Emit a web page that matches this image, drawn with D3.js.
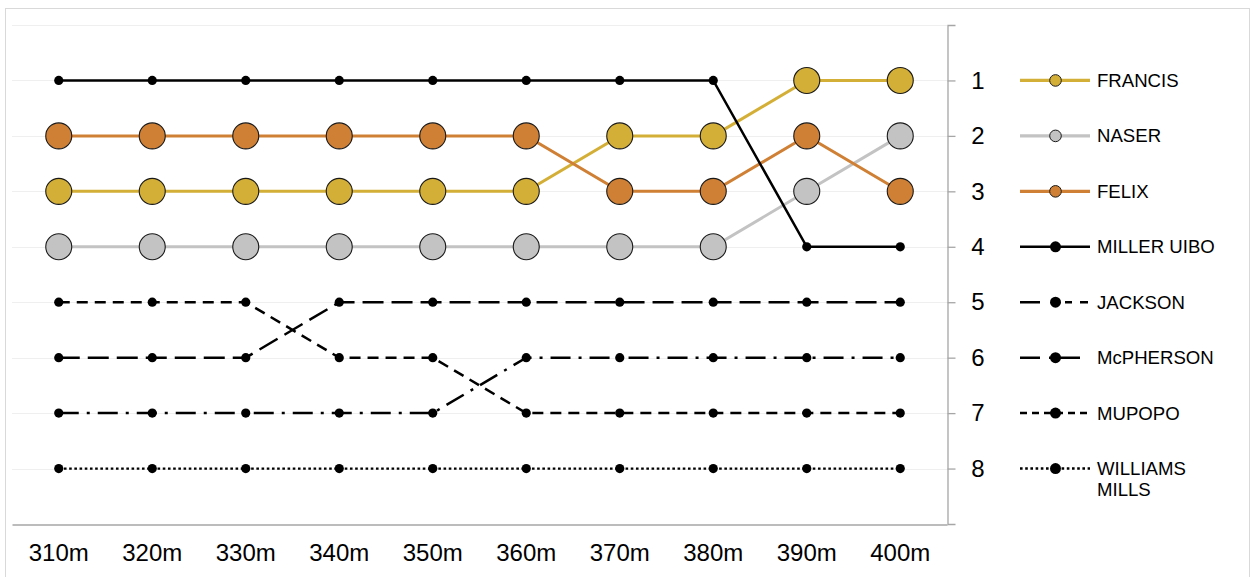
<!DOCTYPE html>
<html><head><meta charset="utf-8">
<script src="https://cdn.jsdelivr.net/npm/d3@7"></script>
<style>
body{margin:0;background:#fff;}
svg{display:block;font-family:"Liberation Sans",Arial,sans-serif;}
</style></head>
<body><svg id="chart" width="1253" height="577"></svg>
<script>
const categories = ["310m","320m","330m","340m","350m","360m","370m","380m","390m","400m"];
const rankTicks = [1,2,3,4,5,6,7,8];
const names = ["FRANCIS","NASER","FELIX","MILLER UIBO","JACKSON","McPHERSON","MUPOPO","WILLIAMS MILLS"];
const francis  = [3,3,3,3,3,3,2,2,1,1];
const naser    = [4,4,4,4,4,4,4,4,3,2];
const felix    = [2,2,2,2,2,2,3,3,2,3];
const millerUibo = [1,1,1,1,1,1,1,1,4,4];
const jackson  = [7,7,7,7,7,6,6,6,6,6];
const mcpherson = [6,6,6,5,5,5,5,5,5,5];
const mupopo   = [5,5,5,6,6,7,7,7,7,7];
const williamsMills = [8,8,8,8,8,8,8,8,8,8];
const seriesValues = [francis,naser,felix,millerUibo,jackson,mcpherson,mupopo,williamsMills];

// styles
const styles = [
  {color:"#D4AF37", w:3, dash:null, big:true, legDash:null},
  {color:"#C3C3C3", w:3, dash:null, big:true, legDash:null},
  {color:"#CF8035", w:3, dash:null, big:true, legDash:null},
  {color:"#000", w:2.5, dash:null, big:false, legDash:null},
  {color:"#000", w:2.5, dash:"20,8,3,8", big:false, legDash:"20,25,7,8,8,40"},
  {color:"#000", w:2.5, dash:"21,8", big:false, legDash:"20,9,31,40"},
  {color:"#000", w:2.5, dash:"11,7", big:false, legDash:"7,5"},
  {color:"#000", w:2.2, dash:"2.6,2.6", big:false, legDash:"2.6,2.6"}
];

const svg = d3.select("#chart");
// outer frame
svg.append("rect").attr("x",5.5).attr("y",8.5).attr("width",1244).attr("height",600)
  .attr("fill","#fff").attr("stroke","#D9D9D9").attr("stroke-width",1);

const x = d3.scaleBand().domain(categories).range([12,947]);
const y = d3.scaleLinear().domain([0,9]).range([25,524]);

// gridlines
svg.append("g").selectAll("line").data(d3.range(0,9)).join("line")
  .attr("x1",12).attr("x2",947)
  .attr("y1",d=>Math.round(y(d))+0.5).attr("y2",d=>Math.round(y(d))+0.5)
  .attr("stroke","#EFEFEF").attr("stroke-width",1.2);

// x axis
const xAxis = svg.append("g").attr("transform",`translate(0,${Math.round(y(9))+0.5})`)
  .call(d3.axisBottom(x).tickSize(0).tickPadding(19));
xAxis.select(".domain").attr("stroke","#A6A6A6").attr("stroke-width",1.3);
xAxis.selectAll("text").attr("font-size",24).attr("fill","#000").attr("font-family","Liberation Sans, Arial, sans-serif");

// y axis (right)
const yAxis = svg.append("g").attr("transform","translate(947.5,0)")
  .call(d3.axisRight(y).tickValues(rankTicks).tickSize(8).tickSizeOuter(8).tickPadding(20));
yAxis.select(".domain").attr("stroke","#A6A6A6").attr("stroke-width",1.3);
yAxis.selectAll(".tick line").attr("stroke","#A6A6A6").attr("stroke-width",1.3);
yAxis.selectAll("text").attr("font-size",24).attr("fill","#000").attr("text-anchor","middle")
  .attr("x",30.5).attr("font-family","Liberation Sans, Arial, sans-serif");

const line = d3.line().x((d,i)=>x(categories[i])+x.bandwidth()/2).y(d=>y(d));

// draw order: later on top
const order = [7,6,5,4,1,0,2,3];
order.forEach(si=>{
  const st = styles[si];
  svg.append("path").datum(seriesValues[si])
    .attr("d",line).attr("fill","none").attr("stroke",st.color)
    .attr("stroke-width",st.w).attr("stroke-dasharray",st.dash);
});
order.forEach(si=>{
  const st = styles[si];
  svg.append("g").selectAll("circle").data(seriesValues[si]).join("circle")
    .attr("cx",(d,i)=>x(categories[i])+x.bandwidth()/2).attr("cy",d=>y(d))
    .attr("r",st.big?13:4.6)
    .attr("fill",st.color)
    .attr("stroke",st.big?"#1a1a1a":"none").attr("stroke-width",1.1);
});

// legend
const leg = svg.append("g");
names.forEach((n,i)=>{
  const st = styles[i];
  const cy = y(i+1);
  const g = leg.append("g");
  g.append("line").attr("x1",1020).attr("x2",1090).attr("y1",cy).attr("y2",cy)
    .attr("stroke",st.color).attr("stroke-width",st.big?3.2:2.5)
    .attr("stroke-dasharray",st.legDash);
  g.append("circle").attr("cx",1055.5).attr("cy",cy).attr("r",st.big?5.8:5.5)
    .attr("fill",st.color).attr("stroke",st.big?"#1a1a1a":"none").attr("stroke-width",1);
  const words = n==="WILLIAMS MILLS" ? ["WILLIAMS","MILLS"] : [n];
  const t = g.append("text").attr("x",1097).attr("y",cy+6.5)
    .attr("font-size",18.6).attr("fill","#000");
  words.forEach((w,k)=>t.append("tspan").attr("x",1097).attr("dy",k===0?0:21).text(w));
});
</script></body></html>
